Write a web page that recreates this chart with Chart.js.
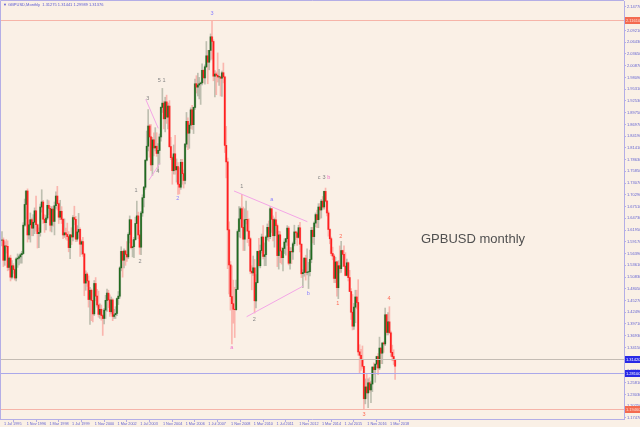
<!DOCTYPE html>
<html><head><meta charset="utf-8">
<script src="https://cdn.jsdelivr.net/npm/chart.js@4/dist/chart.umd.min.js"></script>
<style>
html,body{margin:0;padding:0;background:#FAF0E6;}
#wrap{position:relative;width:640px;height:427px;}
</style></head><body>
<div id="wrap"><canvas id="c" width="640" height="427"></canvas></div>
<script>
// GBPUSD monthly, bar 0 = Jul 1995
const opens = [
1.5955,1.5960,1.5480,1.5820,1.5810,1.5310,
1.5530,1.5080,1.5350,1.5260,1.5060,1.5510,1.5530,1.5560,1.5610,1.5640,1.6310,1.6800,
1.7120,1.6080,1.6320,1.6440,1.6240,1.6380,1.6650,1.6320,1.6110,1.6140,1.6740,1.6860,
1.6450,1.6370,1.6480,1.6780,1.6710,1.6310,1.6690,1.6400,1.6770,1.7000,1.6820,1.6500,
1.6640,1.6450,1.6080,1.6130,1.6090,1.6040,1.5780,1.6080,1.6030,1.6490,1.6450,1.5980,
1.6150,1.6210,1.5860,1.5920,1.5630,1.4940,1.5150,1.4990,1.4550,1.4770,1.4530,1.4210,
1.4930,1.4630,1.4420,1.4200,1.4320,1.4170,1.4100,1.4300,1.4530,1.4700,1.4540,1.4260,
1.4540,1.4150,1.4190,1.4220,1.4570,1.4630,1.5300,1.5690,1.5480,1.5700,1.5620,1.5560,
1.6090,1.6440,1.5780,1.5800,1.5970,1.6350,1.6530,1.6080,1.5790,1.6600,1.6960,1.7210,
1.7850,1.8180,1.8660,1.8400,1.7740,1.8330,1.8140,1.8180,1.8010,1.8080,1.8400,1.9100,
1.9200,1.8830,1.9230,1.8870,1.9130,1.8170,1.7910,1.7600,1.8000,1.7620,1.7700,1.7280,
1.7210,1.7800,1.7530,1.7370,1.8230,1.8770,1.8490,1.8680,1.9040,1.8690,1.9100,1.9660,
1.9580,1.9630,1.9660,1.9680,1.9980,1.9800,2.0060,2.0320,2.0170,2.0450,2.0770,2.0660,
1.9840,1.9890,1.9860,1.9820,1.9820,1.9790,1.9920,1.9820,1.8200,1.7810,1.6200,1.5370,
1.4620,1.4450,1.4320,1.4310,1.4790,1.6160,1.6460,1.6700,1.6260,1.5980,1.6440,1.6450,
1.6170,1.5990,1.5220,1.5180,1.5300,1.4520,1.4950,1.5690,1.5350,1.5710,1.6030,1.5570,
1.5610,1.6030,1.6260,1.6040,1.6700,1.6450,1.6060,1.6440,1.6300,1.5590,1.6080,1.5700,
1.5540,1.5760,1.5910,1.5990,1.6240,1.5410,1.5690,1.5680,1.5870,1.6150,1.6130,1.6020,
1.6250,1.5860,1.5160,1.5190,1.5530,1.5190,1.5200,1.5210,1.5500,1.6190,1.6040,1.6360,
1.6560,1.6440,1.6740,1.6670,1.6880,1.6740,1.7110,1.6880,1.6600,1.6210,1.5990,1.5640,
1.5580,1.5050,1.5440,1.4830,1.5350,1.5280,1.5710,1.5620,1.5340,1.5120,1.5420,1.5070,
1.4740,1.4250,1.3920,1.4370,1.4610,1.4480,1.3310,1.3230,1.3130,1.2970,1.2200,1.2480,
1.2340,1.2580,1.2410,1.2550,1.2950,1.2890,1.3020,1.3200,1.2930,1.3400,1.3280,1.3520,
1.3500,1.4190,1.3770,1.4020,1.3760,1.3300,1.3200,1.3120
];
const highs = [
1.6160,1.6010,1.5920,1.5970,1.5940,1.5560,
1.5600,1.5470,1.5400,1.5300,1.5540,1.5630,1.5600,1.5650,1.5690,1.6370,1.6930,1.7130,
1.7170,1.6430,1.6600,1.6480,1.6560,1.6720,1.7000,1.6340,1.6250,1.6810,1.7150,1.6900,
1.6560,1.6540,1.6910,1.6890,1.6760,1.6750,1.6760,1.6860,1.7100,1.7230,1.6840,1.6900,
1.6750,1.6480,1.6460,1.6240,1.6360,1.6160,1.6090,1.6250,1.6540,1.6760,1.6520,1.6300,
1.6590,1.6250,1.5960,1.6020,1.5650,1.5230,1.5190,1.5110,1.4840,1.4800,1.4530,1.5000,
1.5070,1.4790,1.4750,1.4450,1.4420,1.4200,1.4340,1.4650,1.4800,1.4770,1.4660,1.4610,
1.4570,1.4320,1.4380,1.4590,1.4740,1.5330,1.5800,1.5700,1.5750,1.5720,1.5920,1.6130,
1.6530,1.6440,1.5960,1.6020,1.6500,1.6880,1.6620,1.6190,1.6640,1.7030,1.7230,1.7860,
1.8540,1.9050,1.8700,1.8690,1.8390,1.8500,1.8620,1.8500,1.8240,1.8470,1.9120,1.9550,
1.9250,1.9340,1.9390,1.9200,1.9260,1.8390,1.7950,1.8210,1.8440,1.7880,1.7790,1.7670,
1.7870,1.7870,1.7620,1.8250,1.8980,1.8850,1.8720,1.9090,1.9150,1.9110,1.9770,1.9850,
1.9910,1.9810,1.9700,2.0130,1.9980,2.0110,2.0660,2.0450,2.0450,2.0840,2.1160,2.0700,
1.9970,1.9940,2.0390,2.0000,1.9840,1.9960,2.0150,1.9840,1.8650,1.7900,1.6390,1.5450,
1.5350,1.5010,1.4840,1.5010,1.6200,1.6750,1.6740,1.7040,1.6740,1.6700,1.6880,1.6650,
1.6460,1.6020,1.5350,1.5580,1.5500,1.5140,1.5700,1.6000,1.5840,1.6100,1.6300,1.5890,
1.6060,1.6340,1.6410,1.6750,1.6700,1.6530,1.6480,1.6620,1.6340,1.6170,1.6160,1.5780,
1.5790,1.5990,1.6000,1.6300,1.6280,1.5780,1.5780,1.5910,1.6310,1.6170,1.6170,1.6310,
1.6380,1.5870,1.5260,1.5540,1.5600,1.5750,1.5430,1.5720,1.6260,1.6260,1.6390,1.6600,
1.6670,1.6820,1.6820,1.6920,1.6990,1.7120,1.7190,1.6900,1.6650,1.6230,1.6030,1.5790,
1.5620,1.5550,1.5450,1.5470,1.5820,1.5930,1.5720,1.5820,1.5660,1.5510,1.5440,1.5240,
1.4810,1.4670,1.4460,1.4770,1.4770,1.5020,1.3480,1.3370,1.3450,1.2970,1.2670,1.2780,
1.2670,1.2700,1.2620,1.2960,1.3050,1.3020,1.3210,1.3270,1.3660,1.3400,1.3530,1.3550,
1.4350,1.4200,1.4240,1.4380,1.3800,1.3470,1.3360,1.3140
];
const lows = [
1.5820,1.5330,1.5360,1.5650,1.5230,1.5250,
1.4990,1.5040,1.5170,1.5010,1.4990,1.5310,1.5370,1.5410,1.5410,1.5620,1.6280,1.6460,
1.5910,1.5980,1.5910,1.6060,1.6060,1.6110,1.6170,1.5770,1.5780,1.6050,1.6620,1.6350,
1.6140,1.6200,1.6440,1.6560,1.6170,1.6150,1.6290,1.6080,1.6710,1.6670,1.6350,1.6440,
1.6350,1.5990,1.6020,1.5980,1.5950,1.5680,1.5520,1.5850,1.5940,1.6320,1.5920,1.5930,
1.6000,1.5570,1.5620,1.5570,1.4640,1.4770,1.4860,1.4370,1.3960,1.4050,1.4020,1.4170,
1.4520,1.4370,1.4130,1.4100,1.4060,1.3700,1.3970,1.4100,1.4270,1.4360,1.4150,1.4210,
1.4050,1.4100,1.4100,1.4170,1.4430,1.4580,1.5230,1.5080,1.5300,1.5360,1.5450,1.5520,
1.5890,1.5750,1.5560,1.5540,1.5950,1.6350,1.5990,1.5620,1.5610,1.6520,1.6740,1.7160,
1.7830,1.8070,1.7920,1.7600,1.7490,1.7950,1.8070,1.7940,1.7600,1.7750,1.8300,1.8980,
1.8590,1.8520,1.8720,1.8590,1.8150,1.7860,1.7280,1.7520,1.7520,1.7330,1.7040,1.7050,
1.7160,1.7280,1.7190,1.7290,1.8160,1.8100,1.8130,1.8600,1.8580,1.8480,1.9050,1.9440,
1.9370,1.9300,1.9170,1.9630,1.9680,1.9650,2.0040,1.9660,1.9990,2.0220,2.0250,1.9730,
1.9350,1.9400,1.9700,1.9620,1.9370,1.9360,1.9680,1.8030,1.7430,1.5280,1.4680,1.4300,
1.3500,1.3990,1.3650,1.4290,1.4790,1.6030,1.6010,1.6250,1.5710,1.5710,1.6340,1.5900,
1.5820,1.5160,1.4780,1.5120,1.4230,1.4350,1.4940,1.5340,1.5300,1.5650,1.5510,1.5350,
1.5350,1.5960,1.5930,1.5990,1.6140,1.5940,1.5790,1.6120,1.5330,1.5270,1.5420,1.5390,
1.5230,1.5640,1.5600,1.5830,1.5370,1.5270,1.5400,1.5500,1.5820,1.5970,1.5830,1.6000,
1.5680,1.5070,1.4830,1.5100,1.5010,1.5130,1.4810,1.5110,1.5420,1.5890,1.5850,1.6270,
1.6250,1.6250,1.6460,1.6480,1.6690,1.6690,1.6860,1.6530,1.6050,1.5870,1.5590,1.5490,
1.4950,1.4950,1.4630,1.4570,1.5180,1.5190,1.5330,1.5330,1.5110,1.5110,1.4990,1.4740,
1.4080,1.3830,1.3840,1.4000,1.4330,1.3230,1.2800,1.2870,1.2920,1.1950,1.2080,1.2210,
1.1990,1.2350,1.2110,1.2370,1.2770,1.2590,1.2930,1.2770,1.2890,1.3030,1.3030,1.3300,
1.3460,1.3710,1.3710,1.3760,1.3200,1.3100,1.3010,1.2660
];
const closes = [
1.5960,1.5480,1.5820,1.5810,1.5310,1.5530,
1.5080,1.5350,1.5260,1.5060,1.5510,1.5530,1.5560,1.5610,1.5640,1.6310,1.6800,1.7120,
1.6080,1.6320,1.6440,1.6240,1.6380,1.6650,1.6320,1.6110,1.6140,1.6740,1.6860,1.6450,
1.6370,1.6480,1.6780,1.6710,1.6310,1.6690,1.6400,1.6770,1.7000,1.6820,1.6500,1.6640,
1.6450,1.6080,1.6130,1.6090,1.6040,1.5780,1.6080,1.6030,1.6490,1.6450,1.5980,1.6150,
1.6210,1.5860,1.5920,1.5630,1.4940,1.5150,1.4990,1.4550,1.4770,1.4530,1.4210,1.4930,
1.4630,1.4420,1.4200,1.4320,1.4170,1.4100,1.4300,1.4530,1.4700,1.4540,1.4260,1.4540,
1.4150,1.4190,1.4220,1.4570,1.4630,1.5300,1.5690,1.5480,1.5700,1.5620,1.5560,1.6090,
1.6440,1.5780,1.5800,1.5970,1.6350,1.6530,1.6080,1.5790,1.6600,1.6960,1.7210,1.7850,
1.8180,1.8660,1.8400,1.7740,1.8330,1.8140,1.8180,1.8010,1.8080,1.8400,1.9100,1.9200,
1.8830,1.9230,1.8870,1.9130,1.8170,1.7910,1.7600,1.8000,1.7620,1.7700,1.7280,1.7210,
1.7800,1.7530,1.7370,1.8230,1.8770,1.8490,1.8680,1.9040,1.8690,1.9100,1.9660,1.9580,
1.9630,1.9660,1.9680,1.9980,1.9800,2.0060,2.0320,2.0170,2.0450,2.0770,2.0660,1.9840,
1.9890,1.9860,1.9820,1.9820,1.9790,1.9920,1.9820,1.8200,1.7810,1.6200,1.5370,1.4620,
1.4450,1.4320,1.4310,1.4790,1.6160,1.6460,1.6700,1.6260,1.5980,1.6440,1.6450,1.6170,
1.5990,1.5220,1.5180,1.5300,1.4520,1.4950,1.5690,1.5350,1.5710,1.6030,1.5570,1.5610,
1.6030,1.6260,1.6040,1.6700,1.6450,1.6060,1.6440,1.6300,1.5590,1.6080,1.5700,1.5540,
1.5760,1.5910,1.5990,1.6240,1.5410,1.5690,1.5680,1.5870,1.6150,1.6130,1.6020,1.6250,
1.5860,1.5160,1.5190,1.5530,1.5190,1.5200,1.5210,1.5500,1.6190,1.6040,1.6360,1.6560,
1.6440,1.6740,1.6670,1.6880,1.6740,1.7110,1.6880,1.6600,1.6210,1.5990,1.5640,1.5580,
1.5050,1.5440,1.4830,1.5350,1.5280,1.5710,1.5620,1.5340,1.5120,1.5420,1.5070,1.4740,
1.4250,1.3920,1.4370,1.4610,1.4480,1.3310,1.3230,1.3130,1.2970,1.2200,1.2480,1.2340,
1.2580,1.2410,1.2550,1.2950,1.2890,1.3020,1.3200,1.2930,1.3400,1.3280,1.3520,1.3500,
1.4190,1.3770,1.4020,1.3760,1.3300,1.3200,1.3120,1.2970
];
const yTickLabels = ['2.14770','2.11990','2.09210','2.06430','2.03650','2.00870','1.98090','1.95310','1.92530','1.89750','1.86970','1.84190','1.81410','1.78630','1.75850','1.73070','1.70290','1.67510','1.64730','1.61950','1.59170','1.56390','1.53610','1.50830','1.48050','1.45270','1.42490','1.39710','1.36930','1.34150','1.31370','1.28590','1.25810','1.23030','1.20250','1.17470'];
const xTickLabels = ['1 Jul 1995','1 Nov 1996','1 Mar 1998','1 Jul 1999','1 Nov 2000','1 Mar 2002','1 Jul 2003','1 Nov 2004','1 Mar 2006','1 Jul 2007','1 Nov 2008','1 Mar 2010','1 Jul 2011','1 Nov 2012','1 Mar 2014','1 Jul 2015','1 Nov 2016','1 Mar 2018'];
const xTickBars = [0,16,32,48,64,80,96,112,128,144,160,176,192,208,224,240,256,272];
const redLevels = [2.1161, 1.1946];
const redLevelText = ['2.11610', '1.19460'];
const bidLevel = 1.3142, bidText = '1.31420';
const blueLevel = 1.2810, blueText = '1.28100';
const headerText = '\u25BC GBPUSD,Monthly  1.31275 1.31441 1.29989 1.31376';
// wave labels: [text, bar, price, colour-key]
const waveLabels = [
 ['3',148,2.133,'blue'],['5 1',112.5,1.973,'grey'],['3',102.7,1.9315,'grey'],['4',109.7,1.7577,'grey'],
 ['2',123.8,1.6947,'blue'],['1',94.4,1.7127,'grey'],['2',97.3,1.5462,'grey'],['1',168.9,1.7222,'grey'],
 ['a',190.1,1.6923,'blue'],['c',223.4,1.7444,'grey'],['3',227,1.7444,'grey'],['b',230.3,1.7444,'pink'],
 ['2',177.8,1.4089,'grey'],['b',215.9,1.4697,'blue'],['a',161.9,1.3409,'pink'],
 ['2',238.7,1.6054,'red'],['1',236.6,1.4461,'red'],['4',272.7,1.4579,'red'],['3',255.1,1.1839,'red']
];
const trendLines = [
 [101.3,1.9291,110.1,1.8604],[103.6,1.7380,111.3,1.7776],
 [163.5,1.7120,215.2,1.6393],[172.4,1.4143,212.3,1.4870]
];
const noteText = 'GPBUSD monthly';

const idx = opens.map((_, i) => i);
const isBull = i => closes[i] >= opens[i];
const wickData = idx.map(i => ({x: i, y: [lows[i], highs[i]]}));
const bodyData = idx.map(i => ({x: i, y: [Math.min(opens[i], closes[i]), Math.max(opens[i], closes[i]) + (opens[i] === closes[i] ? 0.0008 : 0)]}));
const AX = '#b4aee6', TXT = '#6464d2';
const colourMap = {blue:'#8a80ff', grey:'#858585', pink:'#f070c8', red:'#ff6a55'};

const overlay = {
  id: 'overlay',
  beforeDraw(c) {
    const ctx = c.ctx; ctx.save(); ctx.fillStyle = '#FAF0E6'; ctx.fillRect(0, 0, c.width, c.height); ctx.restore();
  },
  afterDatasetsDraw(c) {
    const ctx = c.ctx, xs = c.scales.x, ys = c.scales.y, a = c.chartArea;
    ctx.save();
    ctx.strokeStyle = '#f4a6e6'; ctx.lineWidth = 1;
    trendLines.forEach(t => { ctx.beginPath(); ctx.moveTo(xs.getPixelForValue(t[0]), ys.getPixelForValue(t[1])); ctx.lineTo(xs.getPixelForValue(t[2]), ys.getPixelForValue(t[3])); ctx.stroke(); });
    const hline = (v, col) => { const y = Math.round(ys.getPixelForValue(v)) + 0.5; ctx.strokeStyle = col; ctx.beginPath(); ctx.moveTo(a.left, y); ctx.lineTo(a.right, y); ctx.stroke(); };
    redLevels.forEach(v => hline(v, '#f6b4a8'));
    hline(bidLevel, '#c4bcb4');
    hline(blueLevel, '#aaa8ea');
    ctx.font = '5.5px "Liberation Sans", Arial, sans-serif'; ctx.textAlign = 'center'; ctx.textBaseline = 'middle';
    waveLabels.forEach(w => { ctx.fillStyle = colourMap[w[3]]; ctx.fillText(w[0], xs.getPixelForValue(w[1]), ys.getPixelForValue(w[2])); });
    ctx.font = '13px "Liberation Sans", Arial, sans-serif'; ctx.textAlign = 'left'; ctx.textBaseline = 'alphabetic';
    ctx.fillStyle = '#505050'; ctx.fillText(noteText, 421, 243);
    ctx.restore();
  },
  afterDraw(c) {
    const ctx = c.ctx, ys = c.scales.y, a = c.chartArea;
    ctx.save();
    const box = (v, t, bg, fg) => { const y = Math.round(ys.getPixelForValue(v)); ctx.fillStyle = bg; ctx.fillRect(a.right + 1, y - 3, 15, 7); ctx.fillStyle = fg; ctx.font = '4px "Liberation Sans", Arial, sans-serif'; ctx.textAlign = 'left'; ctx.textBaseline = 'middle'; ctx.fillText(t, a.right + 2, y + 0.5); };
    redLevels.forEach((v, i) => box(v, redLevelText[i], '#f46a50', '#ffe0d8'));
    box(bidLevel, bidText, '#2828e6', '#ffffff');
    box(blueLevel, blueText, '#2828e6', '#ffffff');
    ctx.strokeStyle = AX; ctx.lineWidth = 1;
    ctx.beginPath(); ctx.moveTo(0.5, 0.5); ctx.lineTo(a.right, 0.5); ctx.moveTo(0.5, 0.5); ctx.lineTo(0.5, a.bottom); ctx.stroke();
    ctx.fillStyle = '#5a5ad2'; ctx.font = '4px "Liberation Sans", Arial, sans-serif'; ctx.textAlign = 'left'; ctx.textBaseline = 'middle';
    ctx.fillText(headerText, 3, 4.5);
    ctx.restore();
  }
};

new Chart(document.getElementById('c'), {
  type: 'bar',
  data: {
    datasets: [
      {data: wickData, backgroundColor: idx.map(i => isBull(i) ? 'rgba(150,158,140,0.6)' : 'rgba(250,150,145,0.65)'), barThickness: 1, grouped: false, order: 3},
      {data: bodyData, backgroundColor: idx.map(i => isBull(i) ? 'rgba(150,158,140,0.45)' : 'rgba(250,150,145,0.5)'), barThickness: 2, grouped: false, order: 2},
      {data: bodyData, backgroundColor: idx.map(i => isBull(i) ? '#1f6a1f' : '#ff2020'), barThickness: 1, grouped: false, order: 1}
    ]
  },
  options: {
    responsive: false, animation: false, devicePixelRatio: 1,
    layout: {padding: {top: 1, left: 0, right: 0, bottom: 0}},
    plugins: {legend: {display: false}, tooltip: {enabled: false}},
    scales: {
      x: {
        type: 'linear', min: -1.4, max: 438.3, offset: false,
        grid: {display: true, drawOnChartArea: false, drawTicks: true, tickLength: 3, color: AX},
        border: {display: true, color: AX},
        ticks: {autoSkip: false, maxRotation: 0, align: 'start', labelOffset: 2, padding: 0, color: TXT,
          font: {size: 3.8, family: '"Liberation Sans", Arial, sans-serif'},
          callback: (v, i) => xTickLabels[i]},
        afterBuildTicks: s => { s.ticks = xTickBars.map(v => ({value: v})); },
        afterFit: s => { s.height = 8; s.paddingLeft = 0; s.paddingRight = 0; }
      },
      y: {
        type: 'linear', position: 'right', min: 1.1721, max: 2.1619,
        grid: {display: true, drawOnChartArea: false, drawTicks: true, tickLength: 2, color: AX},
        border: {display: true, color: AX},
        ticks: {autoSkip: false, padding: 1, color: TXT,
          font: {size: 4, family: '"Liberation Sans", Arial, sans-serif'},
          callback: (v, i) => yTickLabels[i]},
        afterBuildTicks: s => { s.ticks = yTickLabels.map(v => ({value: Number(v)})); },
        afterFit: s => { s.width = 16; s.paddingTop = 0; s.paddingBottom = 0; }
      }
    }
  },
  plugins: [overlay]
});
</script>
</body></html>
